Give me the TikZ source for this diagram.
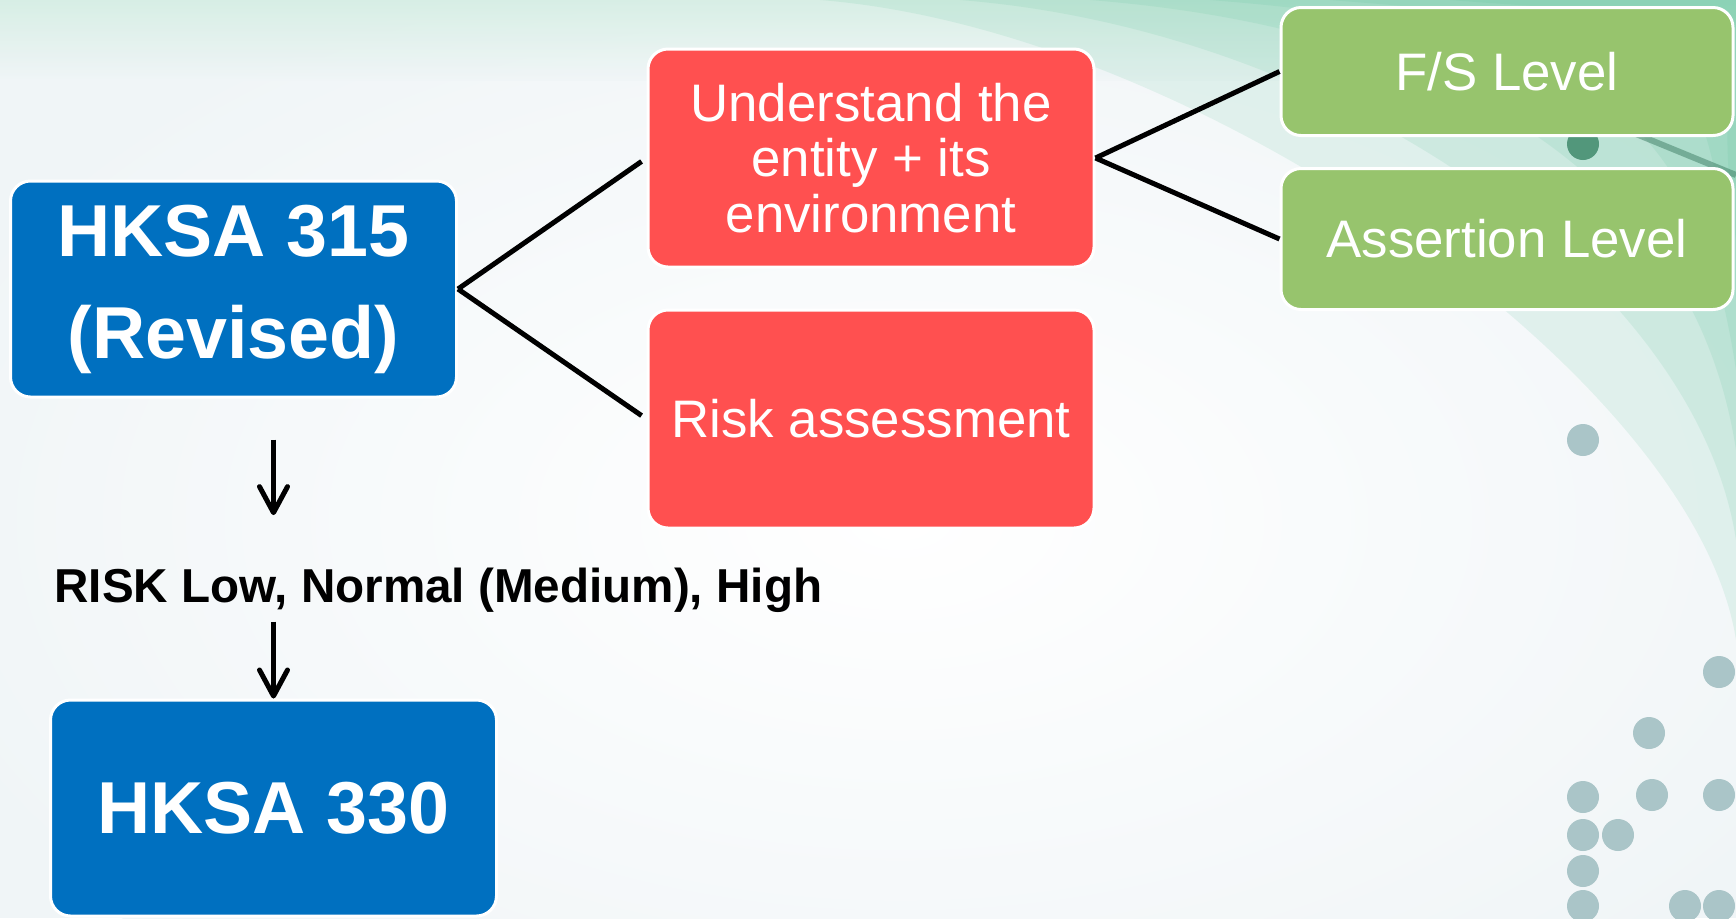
\documentclass[tikz,border=0pt]{standalone}
\usepackage{fontspec}
\setmainfont{Liberation Sans}
\usetikzlibrary{positioning,arrows.meta}
\definecolor{hkblue}{RGB}{0,112,192}
\definecolor{hkred}{RGB}{255,80,80}
\definecolor{hkgreen}{RGB}{151,196,109}
\definecolor{bgc}{RGB}{240,245,247}
\definecolor{mint}{RGB}{205,236,222}
\definecolor{sea}{RGB}{80,190,145}
\definecolor{dotc}{RGB}{170,197,200}
\tikzset{
box/.style={
draw=white,
line width=1.5pt,
rounded corners=10pt,text=white,align=center,inner sep=0pt},
bluebox/.style={box,fill=hkblue,minimum width=223pt,minimum height=108pt,
font={\bfseries\fontsize{36.8pt}{51pt}\selectfont}},
redbox/.style={box,fill=hkred,minimum width=223pt,minimum height=109pt,
font={\fontsize{26.4pt}{27.7pt}\selectfont}},
greenbox/.style={box,fill=hkgreen,minimum width=226pt,
font={\fontsize{26.4pt}{27.7pt}\selectfont}},
line/.style={line width=2.5pt},
arrow/.style={line width=2.5pt,-{Straight Barb[length=13pt,width=14pt,round]}}
}

\begin{document}
\begin{tikzpicture}[x=0.5pt,y=-0.5pt]
  \useasboundingbox (0,0) rectangle (1736,918);
  \fill[bgc] (0,0) rectangle (1736,918);
  \shade[inner color=white,outer color=bgc] (900,520) ellipse (520pt and 300pt);
  \shade[top color=mint,bottom color=bgc,opacity=0.7] (0,0) rectangle (1736,80);
  \foreach \s/\e in {820/640,960/540,1090/450,1210/370,1330/300,1450/240}
    \fill[sea,opacity=0.12] (\s,0) .. controls +(380,30) and +(-40,-260) .. (1736,\e) -- (1736,0) -- cycle;
  \draw[sea!60!black,opacity=0.45,line width=3pt] (1480,70) -- (1736,175);
  \fill[sea!70!black,opacity=0.8] (1583,144) circle (8pt);
  \foreach \x/\y in {1583/440,1719/672,1649/733,1583/797,1652/795,1719/795,1583/835,1618/835,1583/871,1583/906,1685/906,1719/906}
    \fill[dotc] (\x,\y) circle (8pt);
  \node[bluebox] (hk315) at (233.5,289) {HKSA 315\\(Revised)};
  \node[redbox] (ent) at (871,158) {Understand the\\entity + its\\environment};
  \node[redbox, below=20pt of ent] (risk) {Risk assessment};
  \node[greenbox, minimum height=64pt] (fs) at (1507,71.5) {F/S Level};
  \node[greenbox, minimum height=70.5pt, below=15pt of fs] (asrt) {Assertion Level};
  \node[bluebox] (hk330) at (273.5,808) {HKSA 330};
  \node[anchor=base west,inner sep=0pt,font={\bfseries\fontsize{23.8pt}{28pt}\selectfont}] (lvl) at (54,602) {RISK Low, Normal (Medium), High};
  \draw[line, shorten >=3pt] (hk315.east)-- (ent.west);
  \draw[line, shorten >=3pt] (hk315.east)-- (risk.west);
  \draw[line] (ent.east)-- (fs.west);
  \draw[line] (ent.east)-- (asrt.west);
  \draw[arrow, shorten <=20.5pt, shorten >=26pt] (hk315.south -| hk330.north)-- (lvl.north -| hk330.north);
  \draw[arrow, shorten <=4.5pt] (lvl.south -| hk330.north)-- (hk330.north);
\end{tikzpicture}
\end{document}
